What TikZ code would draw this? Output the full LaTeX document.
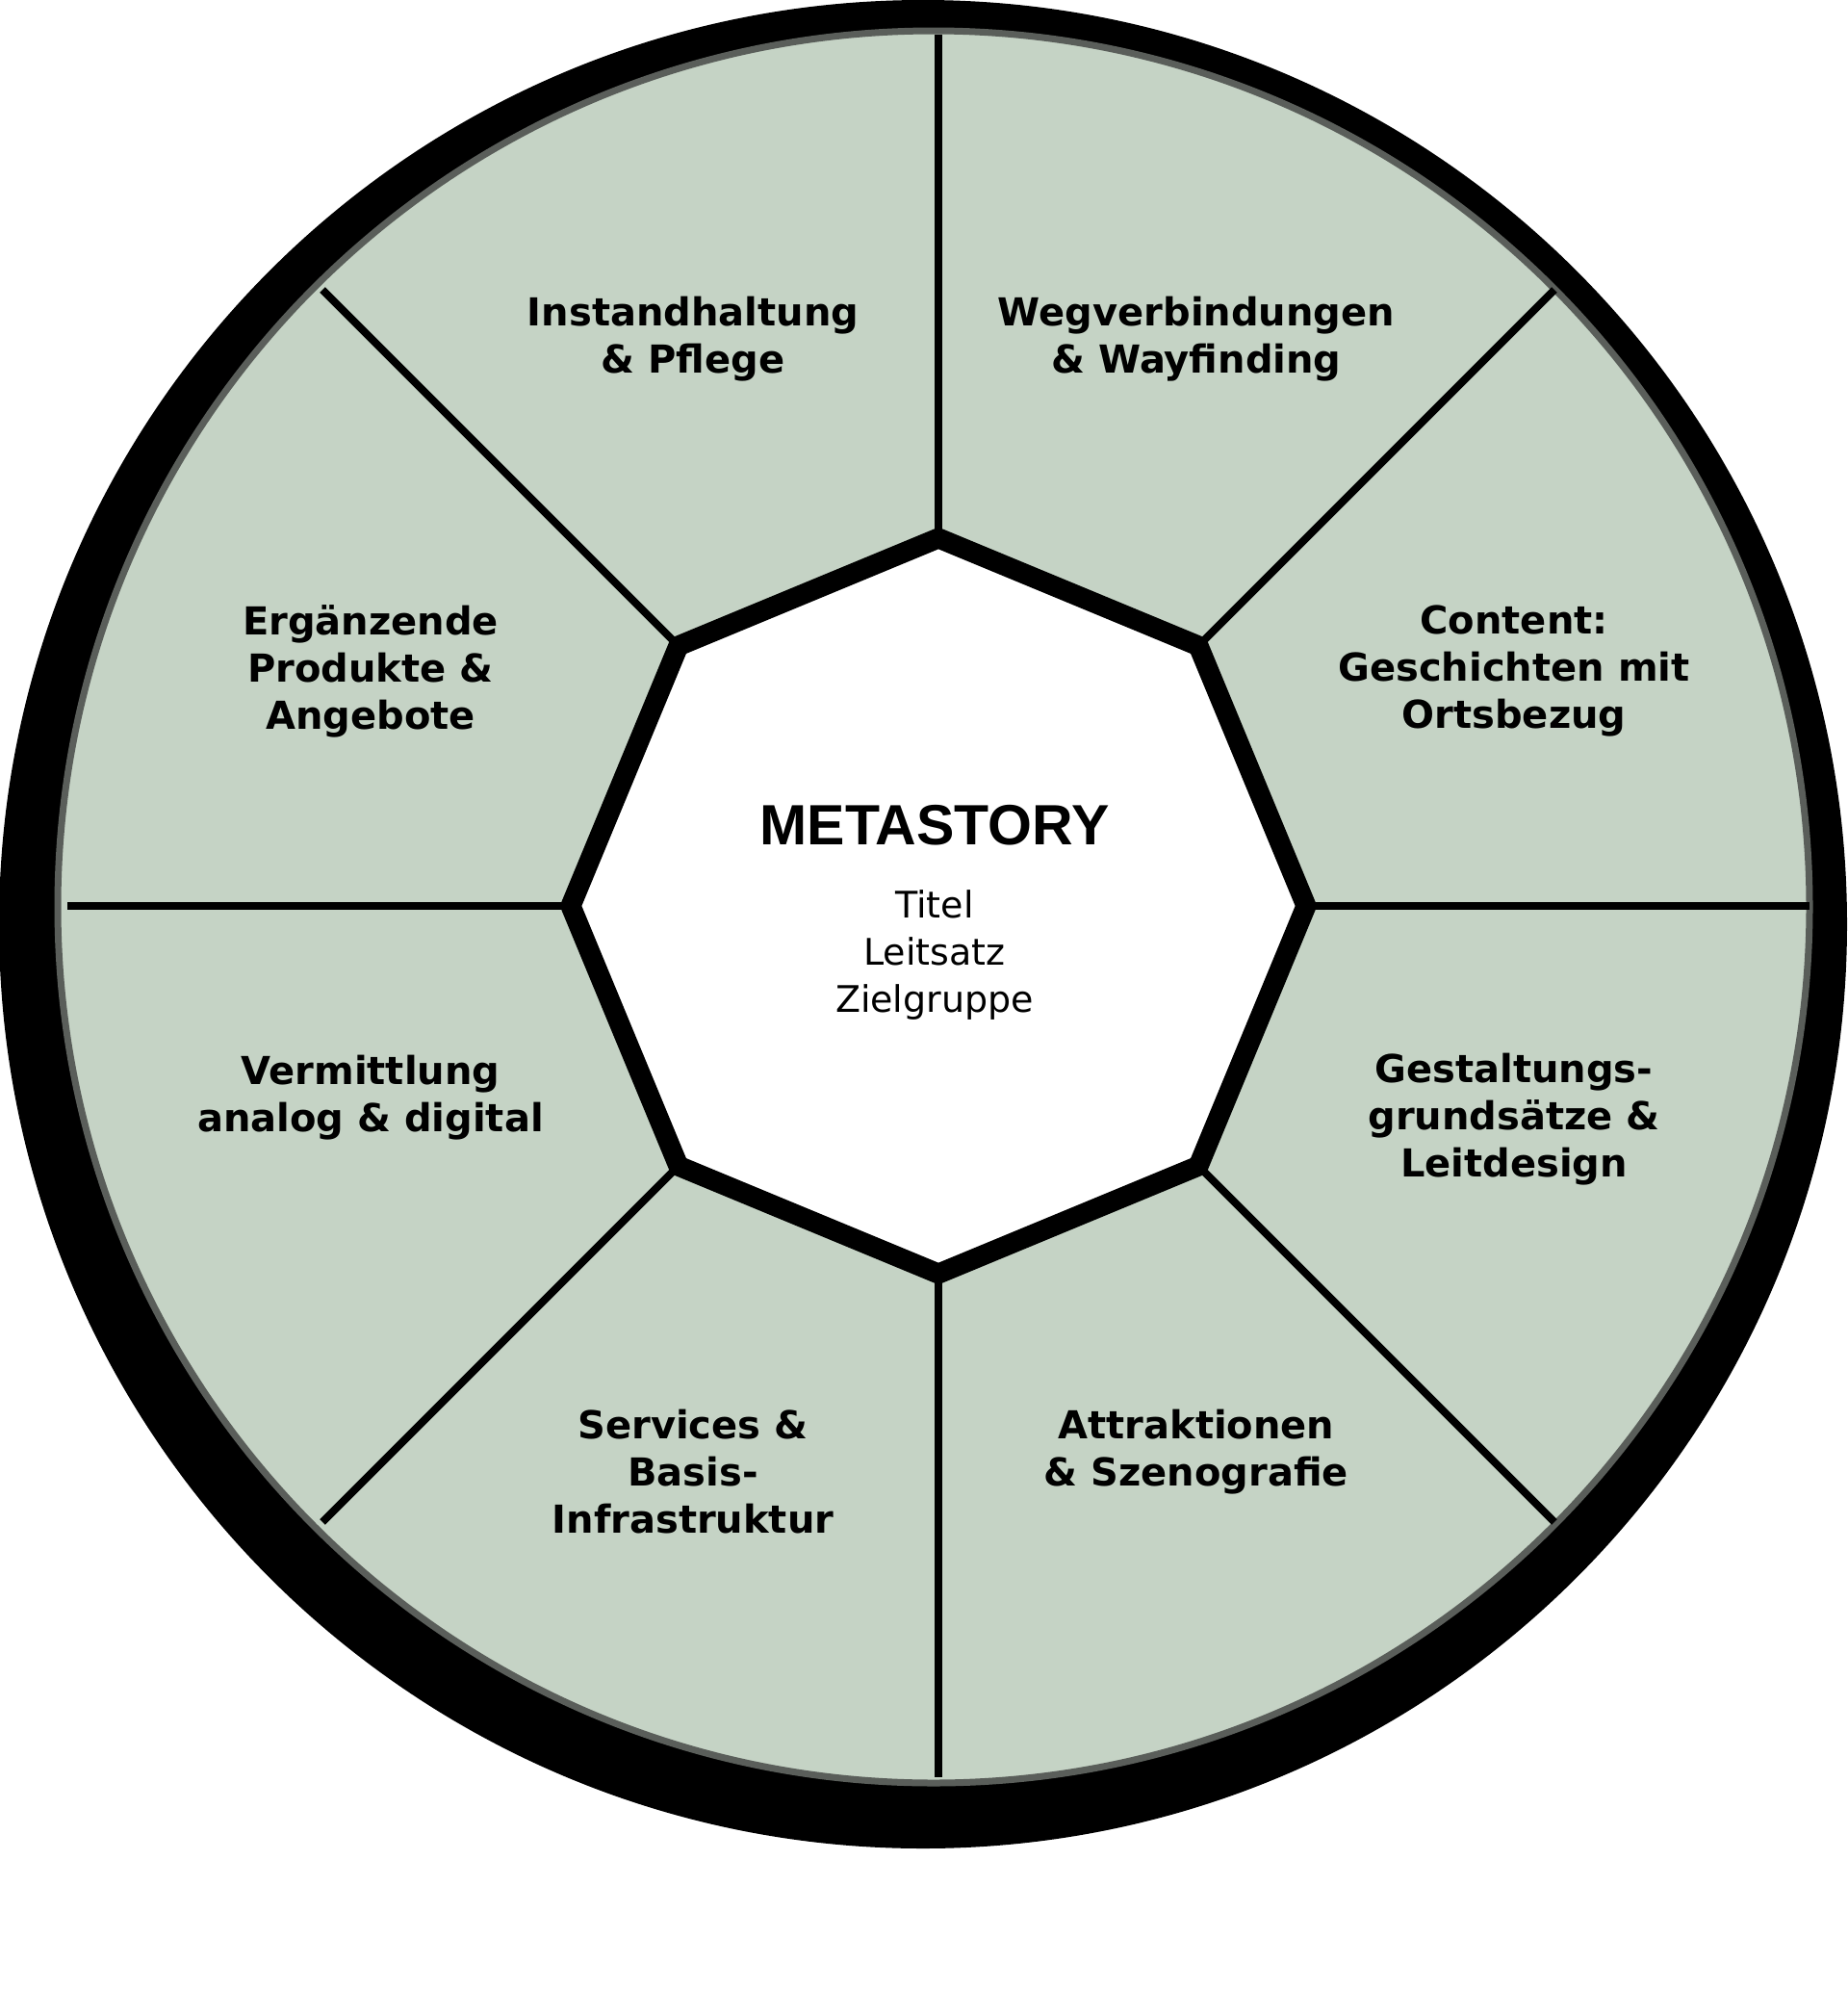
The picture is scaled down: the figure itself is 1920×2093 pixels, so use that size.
\documentclass[tikz,border=0pt]{standalone}
\usepackage{fontspec}
\newfontfamily\lblfont{DejaVu Sans}
\newfontfamily\titfont{Liberation Sans}
\usetikzlibrary{calc}
\definecolor{wheelgreen}{HTML}{C5D3C5}
\definecolor{rimgrey}{HTML}{5A5E5A}
\tikzset{
  lbl/.style={font=\lblfont\bfseries\fontsize{20pt}{24.5pt}\selectfont, align=center, inner sep=0pt, text=black},
  subtxt/.style={font=\lblfont\fontsize{19pt}{24.5pt}\selectfont, align=center, inner sep=0pt},
  titletxt/.style={font=\titfont\bfseries\fontsize{29.5pt}{30pt}\selectfont, inner sep=0pt},
  spoke/.style={line width=4pt, black},
  octo/.style={line width=10.5pt, black, fill=white, line join=miter},
}
\begin{document}
\begin{tikzpicture}[x=0.5pt, y=-0.5pt]
\useasboundingbox (0,0) rectangle (1920,2093);
% outer black ring and green disc
\fill[black] (959,960) circle (960);
\fill[wheelgreen, draw=rimgrey, line width=3.5pt] (970,942) circle (910);
% octagon centre
\coordinate (oc) at (975,941);
\foreach \i/\a in {1/0,2/45,3/90,4/135,5/180,6/225,7/270,8/315}{
  \coordinate (v\i) at ($(oc)+(\a:382)$);
  \coordinate (e\i) at ($(oc)+(\a:905)$);
}
\foreach \i in {1,...,8}{ \draw[spoke] (v\i) -- (e\i); }
\draw[octo] (v1) -- (v2) -- (v3) -- (v4) -- (v5) -- (v6) -- (v7) -- (v8) -- cycle;
% centre texts
\node[titletxt] (meta) at (971,857) {METASTORY};
\node[subtxt] (sub) at (971,992) {Titel\\Leitsatz\\Zielgruppe};
% segment labels
\node[lbl] (instand) at (720,352) {Instandhaltung\\\& Pflege};
\node[lbl] (weg) at (1243,352) {Wegverbindungen\\\& Wayfinding};
\node[lbl] (content) at (1573,697) {Content:\\Geschichten mit\\Ortsbezug};
\node[lbl] (ergaenz) at (385,697) {Ergänzende\\Produkte \&\\Angebote};
\node[lbl] (gestalt) at (1573,1163) {Gestaltungs-\\grundsätze \&\\Leitdesign};
\node[lbl] (vermitt) at (385,1140) {Vermittlung\\analog \& digital};
\node[lbl] (services) at (720,1529) {Services \&\\Basis-\\Infrastruktur};
\node[lbl] (attrakt) at (1243,1508) {Attraktionen\\\& Szenografie};
\end{tikzpicture}
\end{document}
